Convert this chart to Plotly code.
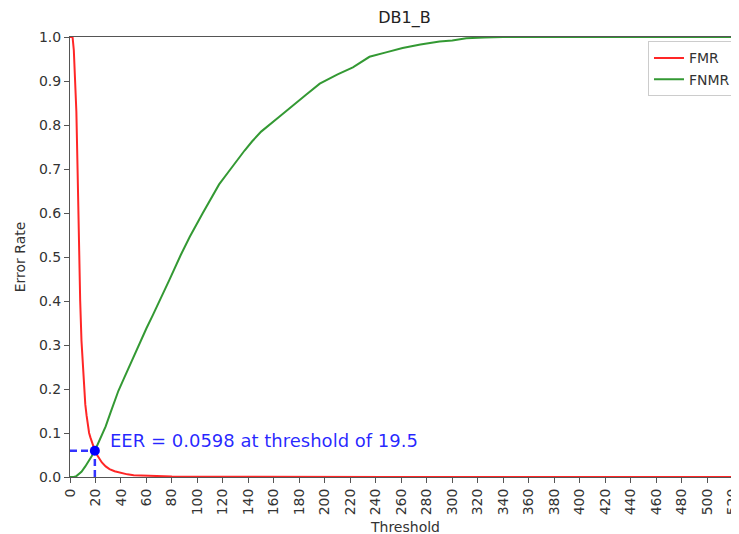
import plotly.graph_objects as go

# ---- data ----
fmr_threshold = [0, 2, 3, 4, 5, 6, 7, 8, 9, 10, 11, 12, 13, 14, 15, 16, 17, 18, 19.5,
                 21, 23, 25, 28, 31, 35, 40, 45, 50, 60, 70, 80, 100, 120, 150, 200, 250, 525]
fmr_values = [1.0, 1.0, 0.97, 0.91, 0.83, 0.69, 0.53, 0.40, 0.31, 0.25, 0.20, 0.165, 0.14,
              0.115, 0.10, 0.09, 0.08, 0.07, 0.0598, 0.051, 0.041, 0.033, 0.024, 0.018,
              0.013, 0.009, 0.006, 0.004, 0.0025, 0.0015, 0.001, 0.0005, 0.0003, 0.0002,
              0.0001, 0.0, 0.0]

fnmr_threshold = [0, 3, 5, 7, 9, 12, 15, 17, 19.5, 22, 25, 28, 32, 35, 38, 42, 45, 49, 52,
                  56, 60, 65, 70, 78, 87, 94, 104, 110, 117, 124, 130, 137, 143, 150, 164,
                  175, 185, 196, 210, 222, 228, 235, 248, 261, 275, 290, 300, 311, 325, 340, 525]
fnmr_values = [0.0, 0.0, 0.002, 0.006, 0.012, 0.024, 0.037, 0.047, 0.0598, 0.075, 0.094,
               0.115, 0.148, 0.173, 0.196, 0.222, 0.242, 0.267, 0.287, 0.312, 0.338, 0.368,
               0.398, 0.448, 0.505, 0.546, 0.599, 0.63, 0.665, 0.692, 0.716, 0.742, 0.763,
               0.785, 0.818, 0.845, 0.868, 0.894, 0.915, 0.931, 0.943, 0.955, 0.965, 0.975,
               0.983, 0.99, 0.992, 0.997, 0.999, 1.0, 1.0]

eer_value = 0.0598
eer_threshold = 19.5

x_ticks = list(range(0, 521, 20))
y_ticks = [round(i * 0.1, 1) for i in range(11)]

FONT = "DejaVu Sans"
AXIS_COLOR = "#555555"
TEXT_COLOR = "#333333"

fig = go.Figure()

fig.add_trace(go.Scatter(x=fmr_threshold, y=fmr_values, mode="lines", name="FMR",
                         line=dict(color="rgba(255,0,0,0.85)", width=2)))
fig.add_trace(go.Scatter(x=fnmr_threshold, y=fnmr_values, mode="lines", name="FNMR",
                         line=dict(color="rgba(0,128,0,0.8)", width=2)))

# EER guide lines
fig.add_trace(go.Scatter(x=[0, eer_threshold], y=[eer_value, eer_value], mode="lines",
                         showlegend=False, hoverinfo="skip",
                         line=dict(color="rgba(0,0,255,0.8)", width=2.5, dash="7px,4px")))
fig.add_trace(go.Scatter(x=[eer_threshold, eer_threshold], y=[0, eer_value], mode="lines",
                         showlegend=False, hoverinfo="skip",
                         line=dict(color="rgba(0,0,255,0.8)", width=2.5, dash="7px,4px")))
fig.add_trace(go.Scatter(x=[eer_threshold], y=[eer_value], mode="markers",
                         showlegend=False, cliponaxis=False,
                         marker=dict(color="blue", size=10)))

fig.add_annotation(x=30, y=0.082, xref="x", yref="y", xanchor="left", yanchor="middle",
                   text=f"EER = {eer_value} at threshold of {eer_threshold}",
                   showarrow=False, font=dict(family=FONT, size=18, color="rgba(0,0,255,0.85)"))

# x-axis title placed below the rotated tick labels
fig.add_annotation(x=0.5, y=0, xref="paper", yref="paper", xanchor="center",
                   yanchor="middle", yshift=-50, text="Threshold", showarrow=False,
                   font=dict(family=FONT, size=14, color=TEXT_COLOR))

# the page places the figure 8px from the top-left corner; the plot area runs to the
# right edge of the window, so the figure is a little wider than what is visible
fig.update_layout(
    width=739, height=526,
    margin=dict(l=62, r=8, t=29, b=57),
    paper_bgcolor="white", plot_bgcolor="white",
    font=dict(family=FONT, size=14, color=TEXT_COLOR),
    title=dict(text="DB1_B", x=0.5, xref="paper", y=1 - 9 / 526, yref="container",
               xanchor="center", yanchor="middle",
               font=dict(family=FONT, size=16, color="#222222")),
    legend=dict(x=0.9955, y=0.99, xanchor="right", yanchor="top",
                bgcolor="white", bordercolor="#cccccc", borderwidth=1,
                tracegroupgap=0,
                font=dict(family=FONT, size=14, color=TEXT_COLOR)),
    xaxis=dict(range=[0, 525], tickmode="array", tickvals=x_ticks,
               ticktext=[str(v) for v in x_ticks], tickangle=-90,
               ticks="outside", ticklen=5, tickcolor=AXIS_COLOR,
               ticklabeloverflow="allow",
               showline=True, linecolor=AXIS_COLOR, linewidth=1, mirror=True,
               showgrid=False, zeroline=False, automargin=False,
               tickfont=dict(family=FONT, size=14, color=TEXT_COLOR)),
    yaxis=dict(range=[0, 1.0], tickmode="array", tickvals=y_ticks,
               ticktext=[f"{v:.1f}" for v in y_ticks],
               ticks="outside", ticklen=5, tickcolor=AXIS_COLOR,
               showline=True, linecolor=AXIS_COLOR, linewidth=1,
               showgrid=False, zeroline=False, automargin=False,
               tickfont=dict(family=FONT, size=14, color=TEXT_COLOR),
               title=dict(text="Error Rate", standoff=10,
                          font=dict(family=FONT, size=14, color=TEXT_COLOR))),
)

fig.write_html("out.html")
